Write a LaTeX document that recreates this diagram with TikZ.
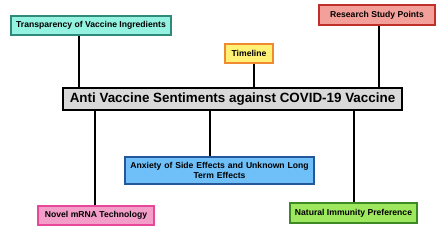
\documentclass[tikz,border=0pt]{standalone}
\usepackage{fontspec}
\setmainfont{Liberation Sans}
\definecolor{tfill}{HTML}{94F2E0}\definecolor{tdraw}{HTML}{2F8A7A}
\definecolor{yfill}{HTML}{FFF176}\definecolor{ydraw}{HTML}{F08A30}
\definecolor{rfill}{HTML}{F4A09A}\definecolor{rdraw}{HTML}{C0302A}
\definecolor{mfill}{HTML}{D9D9D9}
\definecolor{pfill}{HTML}{F29EC8}\definecolor{pdraw}{HTML}{E8479A}
\definecolor{bfill}{HTML}{6FC0F8}\definecolor{bdraw}{HTML}{24589A}
\definecolor{gfill}{HTML}{9DE85E}\definecolor{gdraw}{HTML}{3D8A25}
\tikzset{
  box/.style={draw, line width=1.8pt, inner sep=0pt, align=center, font=\bfseries\fontsize{8.6}{10}\selectfont},
  link/.style={draw=black, line width=1.4pt},
}
\begin{document}
\begin{tikzpicture}[x=1pt,y=-1pt]
\useasboundingbox (0,0) rectangle (444,231);
\node[box, fill=mfill, draw=black, minimum width=339pt, minimum height=22pt, font=\bfseries\fontsize{13.4}{15}\selectfont] (main) at (232.5,99) {Anti Vaccine Sentiments against COVID-19 Vaccine};
\node[box, fill=tfill, draw=tdraw, minimum width=160pt, minimum height=19pt] (trans) at (91,25.5) {Transparency of Vaccine Ingredients};
\node[box, fill=yfill, draw=ydraw, minimum width=48pt, minimum height=19pt] (time) at (249,53.5) {Timeline};
\node[box, fill=rfill, draw=rdraw, minimum width=116pt, minimum height=20pt] (res) at (377,15) {Research Study Points};
\node[box, fill=pfill, draw=pdraw, minimum width=116pt, minimum height=19pt] (novel) at (96,215.5) {Novel mRNA Technology};
\node[box, fill=bfill, draw=bdraw, minimum width=189pt, minimum height=27pt, text width=185pt, font=\bfseries\fontsize{8.6}{10}\selectfont] (anx) at (219.5,170.5) {Anxiety of Side Effects and Unknown Long\\Term Effects};
\node[box, fill=gfill, draw=gdraw, minimum width=127pt, minimum height=20pt] (nat) at (353.5,213) {Natural Immunity Preference};
\draw[link] ([xshift=-12pt]trans.south) -- ([xshift=-12pt]trans.south |- main.north);
\draw[link] ([xshift=5pt]time.south) -- ([xshift=5pt]time.south |- main.north);
\draw[link] ([xshift=2pt]res.south) -- ([xshift=2pt]res.south |- main.north);
\draw[link] ([xshift=-1pt]novel.north) -- ([xshift=-1pt]novel.north |- main.south);
\draw[link] ([xshift=-9.5pt]anx.north) -- ([xshift=-9.5pt]anx.north |- main.south);
\draw[link] ([xshift=0.5pt]nat.north) -- ([xshift=0.5pt]nat.north |- main.south);
\end{tikzpicture}
\end{document}
